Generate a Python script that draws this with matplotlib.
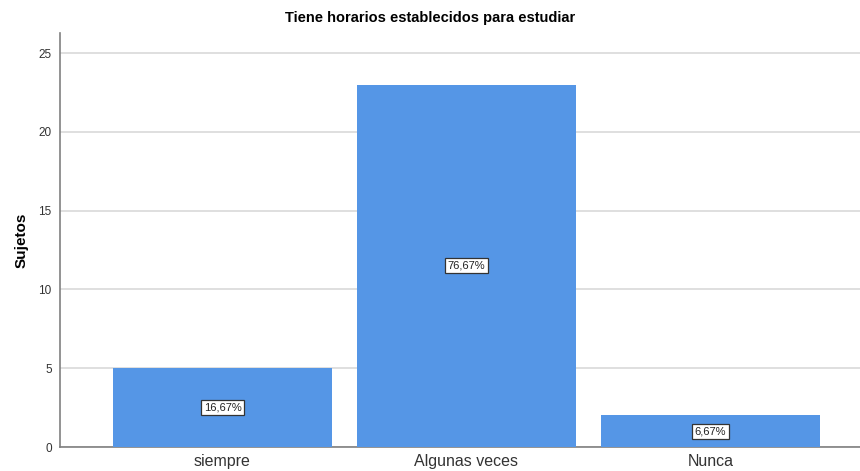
import numpy as np
import matplotlib.pyplot as plt

plt.rcParams['font.family'] = ['Liberation Sans', 'DejaVu Sans']

# Data
categories = ['siempre', 'Algunas veces', 'Nunca']
counts = [5, 23, 2]
percent_labels = ['16,67%', '76,67%', '6,67%']
y_ticks = [0, 5, 10, 15, 20, 25]

fig = plt.figure(figsize=(8.6, 4.71), dpi=100)
ax = fig.add_axes([60 / 860, 1 - 447 / 471, 1 - 60 / 860, (447 - 33) / 471])

x = np.arange(len(categories))
bars = ax.bar(x, counts, width=0.9, color='#5596e6', zorder=3)

for xi, c, lab in zip(x, counts, percent_labels):
    ax.text(xi, c / 2, lab, ha='center', va='center', fontsize=8, color='#222222',
            bbox=dict(boxstyle='square,pad=0.22', fc='white', ec='#333333', lw=0.9), zorder=4)

ax.set_xlim(-0.666, 2.613)
ax.set_ylim(0, 26.27)
ax.set_yticks(y_ticks)
ax.set_xticks(x)
ax.set_xticklabels(categories, fontsize=11.5, color='#333333')
ax.tick_params(axis='y', labelsize=8.5, colors='#333333', length=0, pad=6)
ax.tick_params(axis='x', length=0, pad=5)
ax.yaxis.grid(True, color='#d9d9d9', lw=1.2, zorder=0)

for s in ['top', 'right']:
    ax.spines[s].set_visible(False)
for s in ['left', 'bottom']:
    ax.spines[s].set_color('#808080')
    ax.spines[s].set_linewidth(1.2)

ax.set_ylabel('Sujetos', fontsize=11, fontweight='bold', labelpad=7)
fig.text(0.5, 1 - 18 / 471, 'Tiene horarios establecidos para estudiar', ha='center', va='center',
         fontsize=10.5, fontweight='bold')

fig.savefig('out.png', dpi=100)
